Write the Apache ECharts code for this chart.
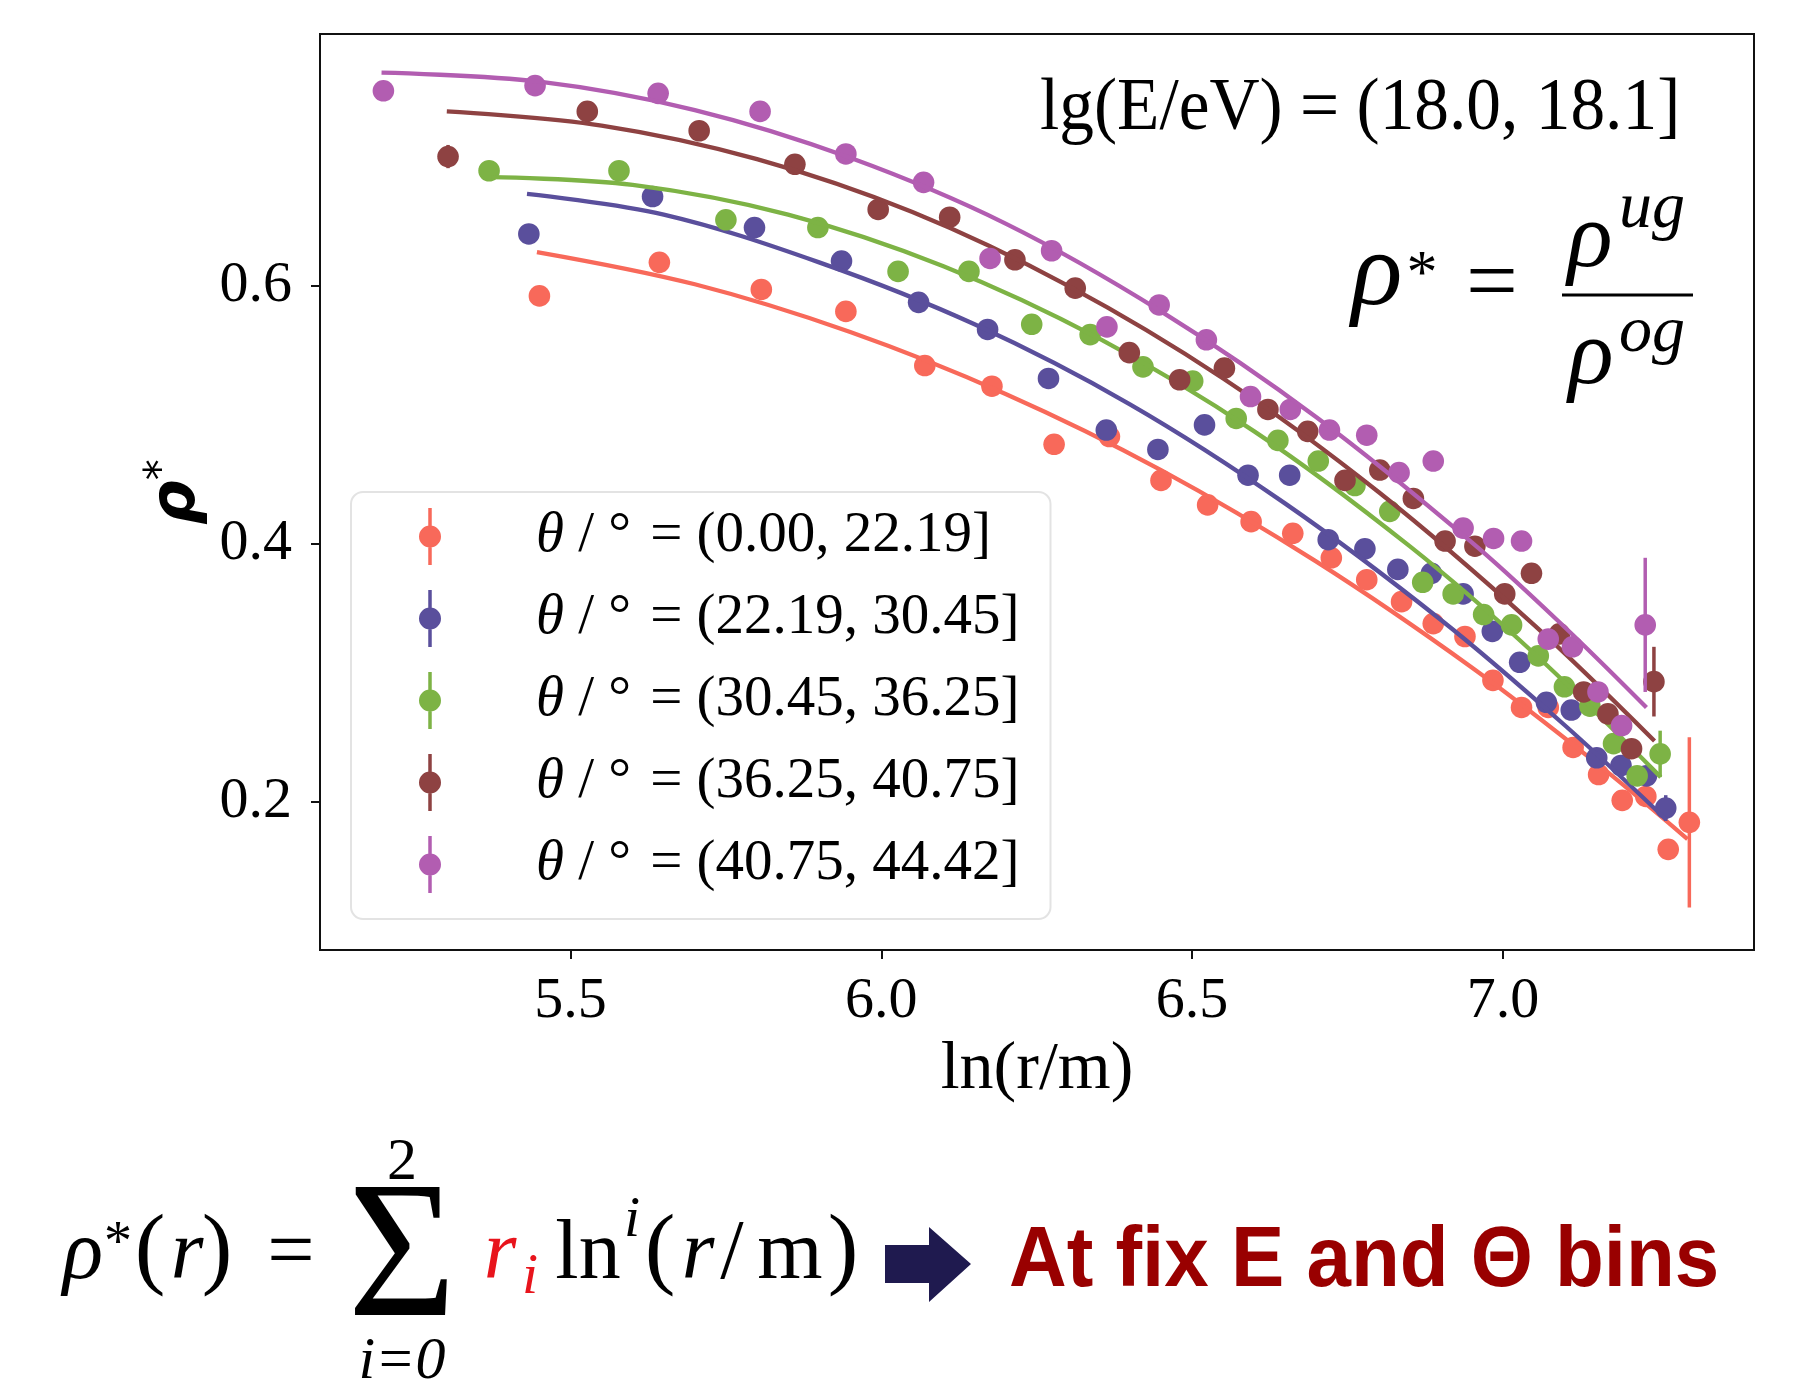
<!DOCTYPE html>
<html><head><meta charset="utf-8">
<script src="https://cdn.jsdelivr.net/npm/echarts@6/dist/echarts.min.js"></script>
<style>html,body{margin:0;padding:0;background:#fff}#chart{width:1803px;height:1388px}</style>
</head><body><div id="chart"></div>
<script>
// ---------- data ----------
const binNames = ['θ / ° = (0.00, 22.19]', 'θ / ° = (22.19, 30.45]', 'θ / ° = (30.45, 36.25]', 'θ / ° = (36.25, 40.75]', 'θ / ° = (40.75, 44.42]'];
const binColors = ['#F8695A', '#5A4F9C', '#7DB345', '#8E4242', '#B25DB1'];

const redX = [5.450,5.643,5.807,5.943,6.070,6.178,6.278,6.367,6.450,6.525,6.595,6.662,6.724,6.781,6.837,6.888,6.939,6.984,7.030,7.073,7.113,7.154,7.192,7.230,7.266,7.300];
const redY = [0.592,0.618,0.597,0.580,0.538,0.522,0.477,0.483,0.449,0.430,0.417,0.408,0.389,0.372,0.355,0.338,0.328,0.294,0.273,0.273,0.242,0.221,0.201,0.204,0.163,0.184];
const redErr = [0.003,0.003,0.003,0.003,0.003,0.003,0.003,0.003,0.003,0.003,0.003,0.003,0.003,0.003,0.003,0.003,0.003,0.004,0.004,0.004,0.004,0.004,0.005,0.005,0.006,0.066];

const blueX = [5.433,5.632,5.796,5.936,6.060,6.171,6.269,6.362,6.445,6.520,6.590,6.657,6.719,6.778,6.831,6.885,6.936,6.983,7.027,7.070,7.110,7.151,7.190,7.231,7.262];
const blueY = [0.640,0.669,0.645,0.619,0.587,0.566,0.528,0.488,0.473,0.492,0.453,0.453,0.403,0.396,0.380,0.377,0.361,0.332,0.308,0.277,0.271,0.234,0.228,0.220,0.195];
const blueErr = [0.003,0.003,0.003,0.003,0.003,0.003,0.003,0.003,0.003,0.003,0.003,0.003,0.003,0.003,0.003,0.003,0.003,0.004,0.004,0.004,0.004,0.005,0.005,0.006,0.010];

const greenX = [5.369,5.578,5.750,5.898,6.027,6.141,6.242,6.336,6.421,6.501,6.571,6.638,6.703,6.762,6.818,6.871,6.920,6.969,7.014,7.057,7.099,7.140,7.178,7.216,7.253];
const greenY = [0.689,0.689,0.651,0.645,0.611,0.611,0.570,0.562,0.537,0.526,0.497,0.480,0.464,0.445,0.425,0.370,0.361,0.345,0.337,0.313,0.289,0.274,0.245,0.220,0.237];
const greenErr = [0.003,0.003,0.003,0.003,0.003,0.003,0.003,0.003,0.003,0.003,0.003,0.003,0.003,0.003,0.003,0.003,0.003,0.004,0.004,0.004,0.004,0.005,0.005,0.006,0.018];

const brownX = [5.303,5.527,5.707,5.861,5.995,6.110,6.215,6.312,6.399,6.480,6.552,6.622,6.686,6.746,6.802,6.856,6.907,6.955,7.003,7.046,7.091,7.130,7.169,7.207,7.243];
const brownY = [0.700,0.735,0.720,0.694,0.659,0.653,0.620,0.598,0.548,0.527,0.536,0.504,0.487,0.449,0.457,0.435,0.402,0.398,0.361,0.377,0.330,0.285,0.268,0.241,0.293];
const brownErr = [0.009,0.003,0.003,0.003,0.003,0.003,0.003,0.003,0.003,0.003,0.003,0.003,0.003,0.003,0.003,0.003,0.003,0.004,0.004,0.004,0.004,0.005,0.005,0.007,0.027];

const purpleX = [5.199,5.443,5.641,5.805,5.943,6.068,6.175,6.274,6.363,6.447,6.523,6.594,6.658,6.721,6.781,6.833,6.888,6.936,6.985,7.030,7.073,7.112,7.153,7.191,7.229];
const purpleY = [0.751,0.755,0.749,0.735,0.702,0.680,0.621,0.627,0.568,0.585,0.558,0.514,0.504,0.488,0.484,0.455,0.464,0.412,0.404,0.402,0.326,0.320,0.285,0.259,0.337];
const purpleErr = [0.007,0.003,0.003,0.003,0.003,0.003,0.003,0.003,0.003,0.003,0.003,0.003,0.003,0.003,0.003,0.003,0.003,0.004,0.004,0.004,0.004,0.005,0.005,0.008,0.052];

// fitted curves
const redFitX = [5.446,5.70,5.95,6.20,6.45,6.70,6.95,7.15,7.297];
const redFitY = [0.626,0.601,0.564,0.516,0.457,0.386,0.304,0.230,0.171];
const blueFitX = [5.430,5.65,5.90,6.15,6.40,6.65,6.90,7.10,7.263];
const blueFitY = [0.671,0.655,0.618,0.570,0.508,0.431,0.341,0.259,0.186];
const greenFitX = [5.373,5.60,5.85,6.10,6.35,6.60,6.85,7.05,7.254];
const greenFitY = [0.684,0.678,0.655,0.615,0.559,0.487,0.398,0.315,0.219];
const brownFitX = [5.301,5.55,5.80,6.05,6.30,6.55,6.80,7.05,7.244];
const brownFitY = [0.735,0.724,0.698,0.657,0.600,0.528,0.440,0.337,0.247];
const purpleFitX = [5.196,5.45,5.70,5.95,6.20,6.45,6.70,6.95,7.10,7.231];
const purpleFitY = [0.765,0.758,0.736,0.699,0.648,0.580,0.498,0.401,0.335,0.273];

const xTicks = [5.5, 6.0, 6.5, 7.0];
const yTicks = [0.2, 0.4, 0.6];

// ---------- build ----------
const pts = [[redX, redY, redErr], [blueX, blueY, blueErr], [greenX, greenY, greenErr], [brownX, brownY, brownErr], [purpleX, purpleY, purpleErr]];
const fits = [[redFitX, redFitY], [blueFitX, blueFitY], [greenFitX, greenFitY], [brownFitX, brownFitY], [purpleFitX, purpleFitY]];
const SERIF = '"Liberation Serif", "Times New Roman", serif';

function renderPoint(params, api) {
  const x = api.value(0), y = api.value(1), e = api.value(2);
  const c = api.coord([x, y]);
  const t = api.coord([x, y + e]);
  const b = api.coord([x, y - e]);
  const color = api.visual('color');
  return {
    type: 'group',
    children: [
      { type: 'line', shape: { x1: c[0], y1: t[1], x2: c[0], y2: b[1] }, style: { stroke: color, lineWidth: 3.5 } },
      { type: 'circle', shape: { cx: c[0], cy: c[1], r: 10.8 }, style: { fill: color } }
    ]
  };
}

const series = [];
binNames.forEach((name, k) => {
  const [xs, ys, es] = pts[k];
  series.push({
    type: 'custom', name: name, renderItem: renderPoint,
    itemStyle: { color: binColors[k] },
    encode: { x: 0, y: 1 },
    data: xs.map((x, i) => [x, ys[i], es[i]]),
    clip: true, z: 2 + k
  });
  const [fx, fy] = fits[k];
  series.push({
    type: 'line', name: name, smooth: 0.35, showSymbol: false, symbol: 'none',
    lineStyle: { color: binColors[k], width: 4.3 },
    itemStyle: { color: binColors[k] },
    data: fx.map((x, i) => [x, fy[i]]), z: 2 + k
  });
});

const legendIcon = 'path://M9.25,0H12.75V57H9.25Z M22,28.5A11,11,0,1,1,0,28.5A11,11,0,1,1,22,28.5Z';

function T(text, x, y, size, opts) {
  opts = opts || {};
  return {
    type: 'text', x: x, y: y, silent: true, z: 10,
    scaleX: opts.sx || 1,
    style: {
      text: text,
      fontFamily: opts.family || SERIF,
      fontSize: size,
      fontStyle: opts.italic ? 'italic' : 'normal',
      fontWeight: opts.bold ? 'bold' : 'normal',
      fill: opts.color || '#000',
      align: opts.align || 'center',
      verticalAlign: 'middle'
    }
  };
}

const graphics = [
  // energy bin annotation
  T('lg(E/eV) = (18.0, 18.1]', 1040, 109, 75, { align: 'left', sx: 0.925 }),
  // rho* = rho^ug / rho^og
  T('ρ', 1377, 276, 106, { italic: true }),
  T('*', 1422, 276, 62),
  T('=', 1492, 287, 92),
  { type: 'rect', shape: { x: 1562, y: 293.5, width: 131, height: 3 }, style: { fill: '#000' }, silent: true, z: 10 },
  T('ρ', 1590, 241, 94, { italic: true }),
  T('ug', 1619, 210, 66, { italic: true, align: 'left' }),
  T('ρ', 1591, 358, 94, { italic: true }),
  T('og', 1619, 334, 66, { italic: true, align: 'left' }),
  // bottom formula
  T('ρ', 83, 1256, 84, { italic: true }),
  T('*', 118, 1245, 56),
  T('(', 150, 1253, 92),
  T('r', 187, 1256, 84, { italic: true }),
  T(')', 217, 1253, 92),
  T('=', 291, 1256, 84),
  T('Σ', 402, 1264, 196, { sx: 0.95 }),
  T('2', 402, 1163, 60),
  T('i=0', 402, 1362, 60, { italic: true }),
  T('r', 500, 1256, 84, { italic: true, color: '#E8141C' }),
  T('i', 530, 1278, 58, { italic: true, color: '#E8141C' }),
  T('ln', 588, 1256, 84),
  T('i', 632, 1221, 58, { italic: true }),
  T('(', 660, 1253, 92),
  T('r', 698, 1256, 84, { italic: true }),
  T('/', 732, 1256, 84),
  T('m', 790, 1256, 84),
  T(')', 843, 1253, 92),
  { type: 'polygon', silent: true, z: 10,
    shape: { points: [[885, 1245], [929, 1245], [929, 1227], [971, 1264], [929, 1302], [929, 1283], [885, 1283]] },
    style: { fill: '#1F1A4F' } },
  T('At fix E and Θ bins', 1009, 1263, 85, { family: '"Liberation Sans", Arial, sans-serif', bold: true, color: '#990000', align: 'left', sx: 0.94 })
];

const option = {
  animation: false,
  backgroundColor: '#fff',
  grid: { left: 320, top: 34, width: 1434, height: 916, show: true, borderColor: '#111', borderWidth: 2, containLabel: false, outerBoundsMode: 'none' },
  xAxis: {
    type: 'value', min: 5.097, max: 7.404,
    axisLine: { show: true, onZero: false, lineStyle: { color: '#111', width: 2 } },
    axisTick: { show: true, customValues: xTicks, length: 9, lineStyle: { color: '#111', width: 2 } },
    axisLabel: { customValues: xTicks, formatter: v => v.toFixed(1), fontFamily: SERIF, fontSize: 58, color: '#000', margin: 23 },
    splitLine: { show: false },
    name: 'ln(r/m)', nameLocation: 'middle', nameGap: 82,
    nameTextStyle: { fontFamily: SERIF, fontSize: 68, color: '#000' }
  },
  yAxis: {
    type: 'value', min: 0.085, max: 0.795,
    axisLine: { show: true, onZero: false, lineStyle: { color: '#111', width: 2 } },
    axisTick: { show: true, customValues: yTicks, length: 9, lineStyle: { color: '#111', width: 2 } },
    axisLabel: { customValues: yTicks, formatter: v => v.toFixed(1), fontFamily: SERIF, fontSize: 58, color: '#000', margin: 28 },
    splitLine: { show: false },
    name: '{a|ρ}{b|*}', nameLocation: 'middle', nameRotate: 90, nameGap: 94,
    nameTextStyle: {
      rich: {
        a: { fontFamily: '"DejaVu Sans", sans-serif', fontStyle: 'italic', fontWeight: 'bold', fontSize: 62, color: '#000' },
        b: { fontFamily: '"DejaVu Sans", sans-serif', fontSize: 42, color: '#000', padding: [0, 0, 30, 0] }
      }
    }
  },
  legend: {
    orient: 'vertical', left: 351, top: 492,
    data: binNames.map(n => ({ name: n, icon: legendIcon })),
    itemWidth: 22, itemHeight: 57, itemGap: 25,
    padding: [16, 31, 26, 68],
    backgroundColor: 'rgba(255,255,255,0.85)', borderColor: '#e3e3e3', borderWidth: 2, borderRadius: 12,
    selectedMode: false,
    formatter: name => '{g| }{i|θ}{t|' + name.slice(1).replace(' = ', ' \u200a= ') + '}',
    textStyle: {
      rich: {
        g: { width: 90, fontSize: 57, lineHeight: 57 },
        i: { fontFamily: SERIF, fontStyle: 'italic', fontSize: 57, color: '#000', lineHeight: 57 },
        t: { fontFamily: SERIF, fontSize: 57, color: '#000', lineHeight: 57 }
      }
    }
  },
  graphic: { elements: graphics },
  series: series
};

const chart = echarts.init(document.getElementById('chart'), null, { renderer: 'canvas' });
chart.setOption(option);
</script>
</body></html>
